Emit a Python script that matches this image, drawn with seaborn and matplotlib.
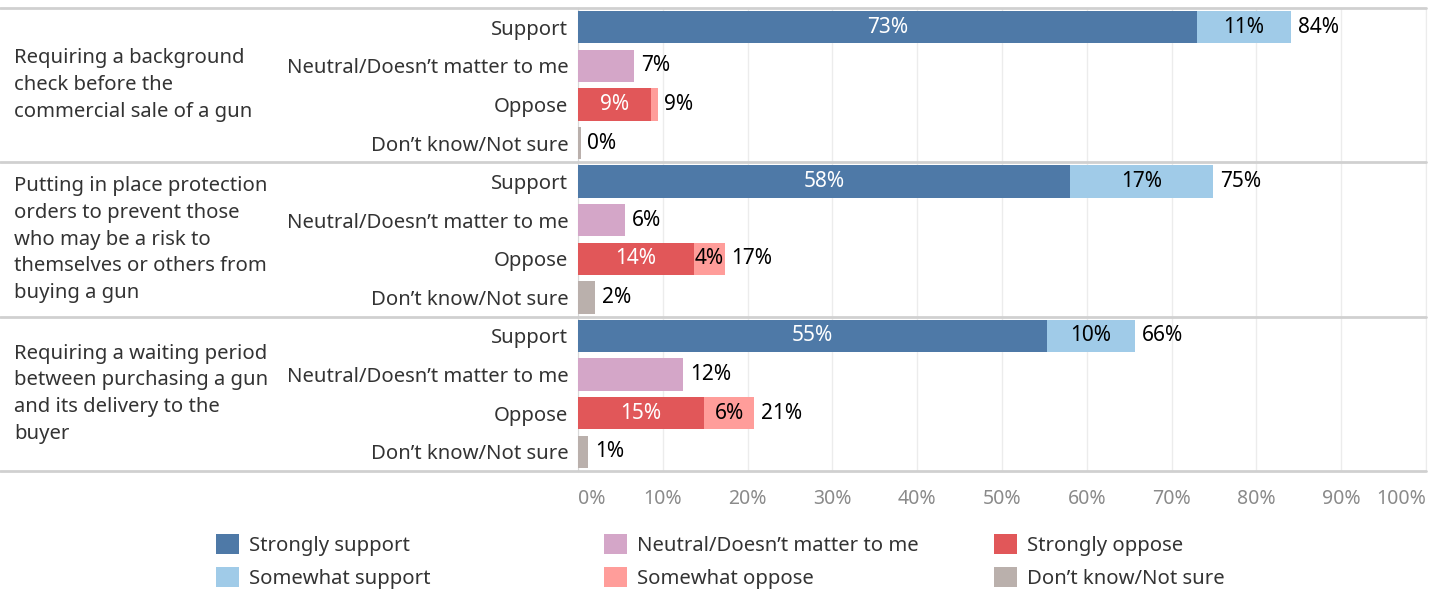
import pandas as pd
import seaborn as sns
import matplotlib.pyplot as plt
import matplotlib.transforms as mtransforms
from matplotlib.patches import Patch

# --- data ---
groups = ["Requiring a background\ncheck before the\ncommercial sale of a gun",
          "Putting in place protection\norders to prevent those\nwho may be a risk to\nthemselves or others from\nbuying a gun",
          "Requiring a waiting period\nbetween purchasing a gun\nand its delivery to the\nbuyer"]
responses = ["Support", "Neutral/Doesn\u2019t matter to me", "Oppose", "Don\u2019t know/Not sure"]
strongly_support = [73.0, 58.0, 55.3]
somewhat_support = [11.1, 16.9, 10.4]
neutral = [6.6, 5.5, 12.4]
strongly_oppose = [8.6, 13.7, 14.9]
somewhat_oppose = [0.8, 3.6, 5.9]
dont_know = [0.3, 2.0, 1.2]
x_ticks = [0, 10, 20, 30, 40, 50, 60, 70, 80, 90, 100]

colors = {"Strongly support": "#4e79a7", "Somewhat support": "#a0cbe8",
          "Neutral/Doesn\u2019t matter to me": "#d4a6c8", "Strongly oppose": "#e15759",
          "Somewhat oppose": "#ff9d9a", "Don\u2019t know/Not sure": "#bab0ac"}

# build long tables: totals (drawn first) and strong parts (drawn over)
tot = {'row': [], 'value': [], 'seg': []}
strong = {'row': [], 'value': [], 'seg': []}
rows = []
for g in range(len(groups)):
    keys = [f"{g}_{r}" for r in responses]
    rows += keys
    tot['row'] += keys
    tot['value'] += [strongly_support[g] + somewhat_support[g], neutral[g],
                     strongly_oppose[g] + somewhat_oppose[g], dont_know[g]]
    tot['seg'] += ["Somewhat support", "Neutral/Doesn\u2019t matter to me",
                   "Somewhat oppose", "Don\u2019t know/Not sure"]
    strong['row'] += [keys[0], keys[2]]
    strong['value'] += [strongly_support[g], strongly_oppose[g]]
    strong['seg'] += ["Strongly support", "Strongly oppose"]
tot = pd.DataFrame(tot)
strong = pd.DataFrame(strong)

sns.set_style("white")
plt.rcParams['font.family'] = ['Noto Sans', 'DejaVu Sans']
FS = 14.6

fig = plt.figure(figsize=(14.4, 5.89), dpi=100)
ax = fig.add_axes([578/1440, 1-471/589, (1426-578)/1440, (471-8)/589])

for d in [tot, strong]:
    sns.barplot(data=d, x='value', y='row', hue='seg', palette=colors, order=rows,
                dodge=False, width=0.84, saturation=1, legend=False, orient='h', ax=ax,
                zorder=3, linewidth=0, edgecolor='none')

# bar labels
for g in range(len(groups)):
    base = g * 4
    for i, (s, w) in enumerate([(strongly_support[g], somewhat_support[g]),
                                (strongly_oppose[g], somewhat_oppose[g])]):
        y = base + (0 if i == 0 else 2)
        ax.text(s / 2, y, f"{s:.0f}%", color='white', ha='center', va='center', fontsize=15, zorder=5)
        if w >= 2:
            ax.text(s + w / 2, y, f"{w:.0f}%", color='black', ha='center', va='center', fontsize=15, zorder=5)
        ax.text(s + w + 0.8, y, f"{s + w:.0f}%", color='black', ha='left', va='center', fontsize=15, zorder=5)
    for y, v in [(base + 1, neutral[g]), (base + 3, dont_know[g])]:
        ax.text(v + 0.8, y, f"{v:.0f}%", color='black', ha='left', va='center', fontsize=15, zorder=5)

ax.set_xlim(0, 100)
ax.set_ylim(len(rows) - 0.5, -0.5)
ax.set_xticks(x_ticks)
xl = ax.set_xticklabels([f"{t}%" for t in x_ticks], color='#8a8a8a', fontsize=14)
xl[0].set_ha('left')
xl[-1].set_ha('right')
ax.set_yticks(range(len(rows)))
ax.set_yticklabels(responses * len(groups), color='#333333', fontsize=FS)
ax.set_xlabel('')
ax.set_ylabel('')
ax.tick_params(axis='y', length=0, pad=7)
ax.tick_params(axis='x', length=8, width=1, color='#333333', direction='out', pad=5)
ax.xaxis.grid(True, color='#ececec', lw=1, zorder=0)
ax.set_axisbelow(True)
for side in ['top', 'bottom']:
    ax.spines[side].set_visible(False)
ax.spines['left'].set_color('#d8d8d8')
ax.spines['right'].set_color('#ececec')

# group separators spanning the full width
trans = mtransforms.blended_transform_factory(fig.transFigure, ax.transData)
for y in [-0.5, 3.5, 7.5, 11.5]:
    ax.plot([0, 1426/1440], [y, y], transform=trans, color='#d0d0d0', lw=2, clip_on=False, zorder=4)

# group labels
for g, label in enumerate(groups):
    ax.text(14/1440, g * 4 + 1.5, label, transform=trans, ha='left', va='center',
            fontsize=FS, color='#333333', linespacing=1.45)

# legend: three columns, two entries each
cols = [["Strongly support", "Somewhat support"],
        ["Neutral/Doesn\u2019t matter to me", "Somewhat oppose"],
        ["Strongly oppose", "Don\u2019t know/Not sure"]]
for x0, names in zip([208, 596, 986], cols):
    handles = [Patch(facecolor=colors[k], edgecolor='none', label=k) for k in names]
    fig.legend(handles=handles, loc='upper left', bbox_to_anchor=(x0/1440, 1-526/589),
               frameon=False, fontsize=FS, handlelength=1.15, handleheight=1.15,
               handletextpad=0.45, labelspacing=0.55, labelcolor='#333333', borderaxespad=0)

fig.savefig('out.png', dpi=100)
